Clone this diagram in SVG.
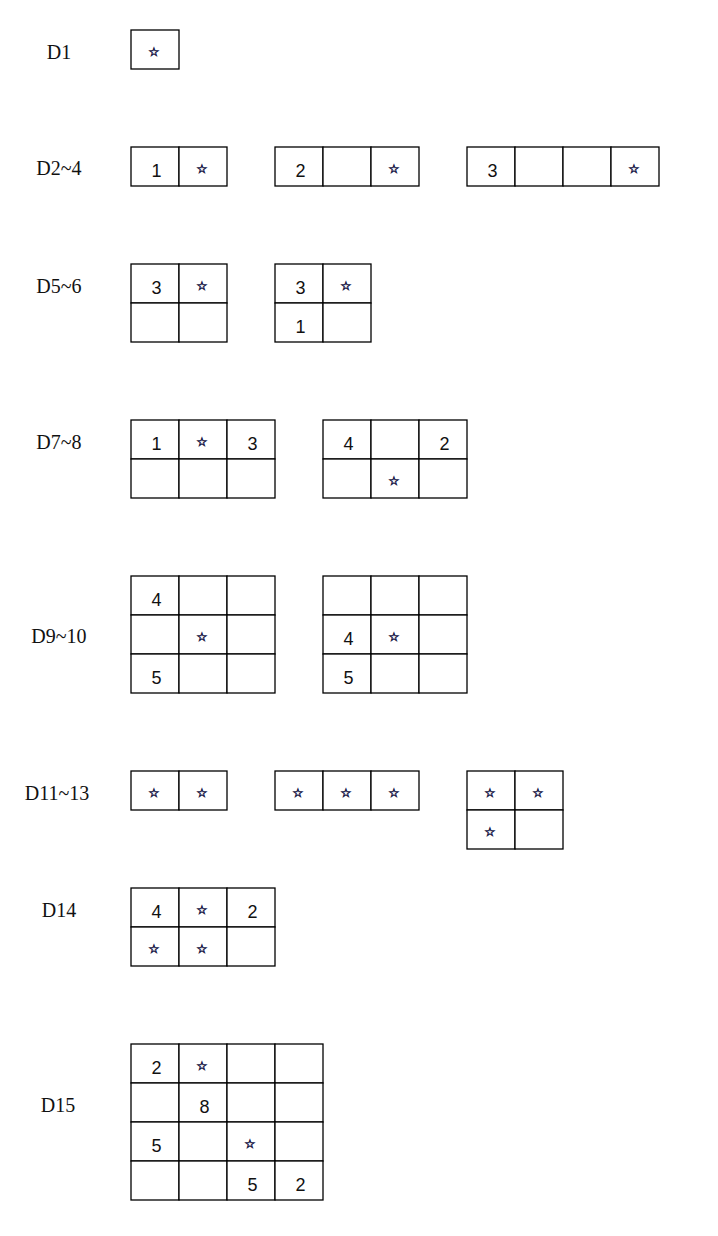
<svg xmlns="http://www.w3.org/2000/svg" width="718" height="1236" viewBox="0 0 718 1236">
<style>
.c{fill:#fff;stroke:#000;stroke-width:1.3}
.l{font-family:"Liberation Serif","Times New Roman",serif;font-size:20px;fill:#111;text-anchor:middle}
.n{font-family:"Liberation Sans",Arial,sans-serif;font-size:18px;fill:#111;text-anchor:middle}
.s{font-family:"DejaVu Sans",sans-serif;font-size:12px;fill:#1e1e4a;stroke:#1e1e4a;stroke-width:0.7;text-anchor:middle}
</style>
<rect width="718" height="1236" fill="#fff"/>
<g id="D1">
<text class="l" x="59" y="59">D1</text>
<rect class="c" x="131" y="30" width="48" height="39"/>
<text class="s" x="154" y="56">☆</text>
</g>
<g id="D2-4">
<text class="l" x="59" y="175">D2~4</text>
<g id="D2">
<rect class="c" x="131" y="147" width="48" height="39"/><rect class="c" x="179" y="147" width="48" height="39"/>
<text class="n" x="156.5" y="177">1</text><text class="s" x="202" y="173">☆</text>
</g>
<g id="D3">
<rect class="c" x="275" y="147" width="48" height="39"/><rect class="c" x="323" y="147" width="48" height="39"/><rect class="c" x="371" y="147" width="48" height="39"/>
<text class="n" x="300.5" y="177">2</text><text class="s" x="394" y="173">☆</text>
</g>
<g id="D4">
<rect class="c" x="467" y="147" width="48" height="39"/><rect class="c" x="515" y="147" width="48" height="39"/><rect class="c" x="563" y="147" width="48" height="39"/><rect class="c" x="611" y="147" width="48" height="39"/>
<text class="n" x="492.5" y="177">3</text><text class="s" x="634" y="173">☆</text>
</g>
</g>
<g id="D5-6">
<text class="l" x="59" y="293">D5~6</text>
<g id="D5">
<rect class="c" x="131" y="264" width="48" height="39"/><rect class="c" x="179" y="264" width="48" height="39"/>
<rect class="c" x="131" y="303" width="48" height="39"/><rect class="c" x="179" y="303" width="48" height="39"/>
<text class="n" x="156.5" y="294">3</text><text class="s" x="202" y="290">☆</text>
</g>
<g id="D6">
<rect class="c" x="275" y="264" width="48" height="39"/><rect class="c" x="323" y="264" width="48" height="39"/>
<rect class="c" x="275" y="303" width="48" height="39"/><rect class="c" x="323" y="303" width="48" height="39"/>
<text class="n" x="300.5" y="294">3</text><text class="s" x="346" y="290">☆</text>
<text class="n" x="300.5" y="333">1</text>
</g>
</g>
<g id="D7-8">
<text class="l" x="59" y="449">D7~8</text>
<g id="D7">
<rect class="c" x="131" y="420" width="48" height="39"/><rect class="c" x="179" y="420" width="48" height="39"/><rect class="c" x="227" y="420" width="48" height="39"/>
<rect class="c" x="131" y="459" width="48" height="39"/><rect class="c" x="179" y="459" width="48" height="39"/><rect class="c" x="227" y="459" width="48" height="39"/>
<text class="n" x="156.5" y="450">1</text><text class="s" x="202" y="446">☆</text><text class="n" x="252.5" y="450">3</text>
</g>
<g id="D8">
<rect class="c" x="323" y="420" width="48" height="39"/><rect class="c" x="371" y="420" width="48" height="39"/><rect class="c" x="419" y="420" width="48" height="39"/>
<rect class="c" x="323" y="459" width="48" height="39"/><rect class="c" x="371" y="459" width="48" height="39"/><rect class="c" x="419" y="459" width="48" height="39"/>
<text class="n" x="348.5" y="450">4</text><text class="n" x="444.5" y="450">2</text>
<text class="s" x="394" y="485">☆</text>
</g>
</g>
<g id="D9-10">
<text class="l" x="59" y="643">D9~10</text>
<g id="D9">
<rect class="c" x="131" y="576" width="48" height="39"/><rect class="c" x="179" y="576" width="48" height="39"/><rect class="c" x="227" y="576" width="48" height="39"/>
<rect class="c" x="131" y="615" width="48" height="39"/><rect class="c" x="179" y="615" width="48" height="39"/><rect class="c" x="227" y="615" width="48" height="39"/>
<rect class="c" x="131" y="654" width="48" height="39"/><rect class="c" x="179" y="654" width="48" height="39"/><rect class="c" x="227" y="654" width="48" height="39"/>
<text class="n" x="156.5" y="606">4</text>
<text class="s" x="202" y="641">☆</text>
<text class="n" x="156.5" y="684">5</text>
</g>
<g id="D10">
<rect class="c" x="323" y="576" width="48" height="39"/><rect class="c" x="371" y="576" width="48" height="39"/><rect class="c" x="419" y="576" width="48" height="39"/>
<rect class="c" x="323" y="615" width="48" height="39"/><rect class="c" x="371" y="615" width="48" height="39"/><rect class="c" x="419" y="615" width="48" height="39"/>
<rect class="c" x="323" y="654" width="48" height="39"/><rect class="c" x="371" y="654" width="48" height="39"/><rect class="c" x="419" y="654" width="48" height="39"/>
<text class="n" x="348.5" y="645">4</text><text class="s" x="394" y="641">☆</text>
<text class="n" x="348.5" y="684">5</text>
</g>
</g>
<g id="D11-13">
<text class="l" x="57" y="800">D11~13</text>
<g id="D11">
<rect class="c" x="131" y="771" width="48" height="39"/><rect class="c" x="179" y="771" width="48" height="39"/>
<text class="s" x="154" y="797">☆</text><text class="s" x="202" y="797">☆</text>
</g>
<g id="D12">
<rect class="c" x="275" y="771" width="48" height="39"/><rect class="c" x="323" y="771" width="48" height="39"/><rect class="c" x="371" y="771" width="48" height="39"/>
<text class="s" x="298" y="797">☆</text><text class="s" x="346" y="797">☆</text><text class="s" x="394" y="797">☆</text>
</g>
<g id="D13">
<rect class="c" x="467" y="771" width="48" height="39"/><rect class="c" x="515" y="771" width="48" height="39"/>
<rect class="c" x="467" y="810" width="48" height="39"/><rect class="c" x="515" y="810" width="48" height="39"/>
<text class="s" x="490" y="797">☆</text><text class="s" x="538" y="797">☆</text>
<text class="s" x="490" y="836">☆</text>
</g>
</g>
<g id="D14">
<text class="l" x="59" y="917">D14</text>
<rect class="c" x="131" y="888" width="48" height="39"/><rect class="c" x="179" y="888" width="48" height="39"/><rect class="c" x="227" y="888" width="48" height="39"/>
<rect class="c" x="131" y="927" width="48" height="39"/><rect class="c" x="179" y="927" width="48" height="39"/><rect class="c" x="227" y="927" width="48" height="39"/>
<text class="n" x="156.5" y="918">4</text><text class="s" x="202" y="914">☆</text><text class="n" x="252.5" y="918">2</text>
<text class="s" x="154" y="953">☆</text><text class="s" x="202" y="953">☆</text>
</g>
<g id="D15">
<text class="l" x="58" y="1112">D15</text>
<rect class="c" x="131" y="1044" width="48" height="39"/><rect class="c" x="179" y="1044" width="48" height="39"/><rect class="c" x="227" y="1044" width="48" height="39"/><rect class="c" x="275" y="1044" width="48" height="39"/>
<rect class="c" x="131" y="1083" width="48" height="39"/><rect class="c" x="179" y="1083" width="48" height="39"/><rect class="c" x="227" y="1083" width="48" height="39"/><rect class="c" x="275" y="1083" width="48" height="39"/>
<rect class="c" x="131" y="1122" width="48" height="39"/><rect class="c" x="179" y="1122" width="48" height="39"/><rect class="c" x="227" y="1122" width="48" height="39"/><rect class="c" x="275" y="1122" width="48" height="39"/>
<rect class="c" x="131" y="1161" width="48" height="39"/><rect class="c" x="179" y="1161" width="48" height="39"/><rect class="c" x="227" y="1161" width="48" height="39"/><rect class="c" x="275" y="1161" width="48" height="39"/>
<text class="n" x="156.5" y="1074">2</text><text class="s" x="202" y="1070">☆</text>
<text class="n" x="204.5" y="1113">8</text>
<text class="n" x="156.5" y="1152">5</text><text class="s" x="250" y="1148">☆</text>
<text class="n" x="252.5" y="1191">5</text><text class="n" x="300.5" y="1191">2</text>
</g>
</svg>
